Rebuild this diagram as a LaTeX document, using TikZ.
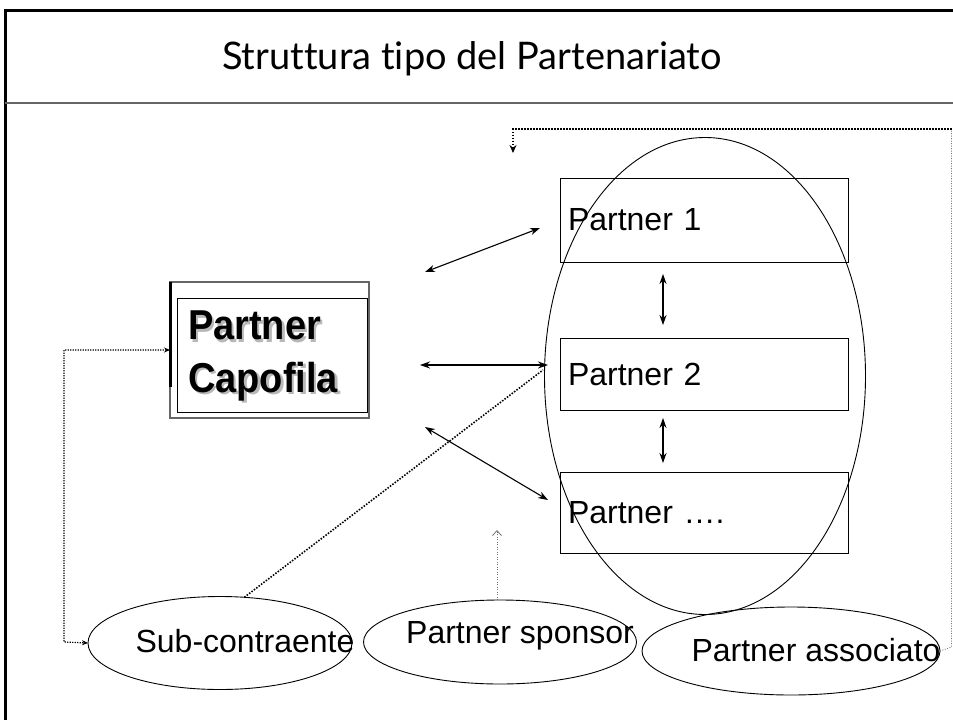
\documentclass[tikz,border=0pt]{standalone}
\usepackage{fontspec}
\setmainfont{Liberation Sans}
\newfontfamily\titlefont[Ligatures=NoCommon,RawFeature=-liga]{Lato}
\usetikzlibrary{arrows.meta,shapes.geometric}
\newcommand{\shadowword}[1]{\rlap{\kern2.5pt\raisebox{-2.5pt}{\color{black!28}#1}}#1}
\begin{document}
\begin{tikzpicture}[x=1pt,y=-1pt,
  every node/.style={inner sep=0pt,outer sep=0pt},
  pbox/.style={draw, line width=0.9pt, rectangle, minimum width=288pt, text width=272pt, align=left, inner xsep=8pt, font=\fontsize{32}{38}\selectfont},
  oval/.style={draw, ellipse, line width=0.9pt},
  lbl/.style={font=\fontsize{32}{38}\selectfont},
  dbl/.style={{Stealth[length=10pt,width=7pt]}-{Stealth[length=10pt,width=7pt]}, line width=1.1pt},
  dots/.style={line width=1.6pt, dash pattern=on 1.5pt off 1.5pt},
  thindots/.style={line width=0.8pt, dash pattern=on 1pt off 1.5pt, black!55},
  smalltip/.style={{Stealth[length=6pt,width=5pt]}-{Stealth[length=6pt,width=5pt]}}
]
\useasboundingbox (0,0) rectangle (953,720);
% frame
\draw[line width=3pt] (5,720) -- (5,10) -- (953,10);
\draw[line width=1.2pt, black!60] (5,103) -- (953,103);
\node[font=\titlefont\fontsize{38}{44}\selectfont] (title) at (472,59) {Struttura tipo del Partenariato};

% partner boxes
\node[pbox, minimum height=84pt] (p1) at (704,220) {Partner 1};
\node[pbox, minimum height=72pt] (p2) at (704,374) {Partner 2};
\node[pbox, minimum height=81pt] (p3) at (704,512.5) {Partner ….};
% group ellipse
\node[oval, minimum width=321pt, minimum height=477pt] (grp) at (705,376) {};

% vertical arrows
\coordinate (a1) at (663,274); \coordinate (a2) at (663,325);
\coordinate (a3) at (663,418); \coordinate (a4) at (663,463);
\draw[dbl] (a1) -- (a2);
\draw[dbl] (a3) -- (a4);

% capofila
\node[draw=black!60, line width=1.5pt, minimum width=199pt, minimum height=136pt] (capo) at (269.5,350) {};
\node[draw, line width=0.8pt, minimum width=190pt, minimum height=114pt] (capoin) at (272,355) {};
\draw[line width=3pt] (capo.north west) -- ++(0,105);
\node[font=\bfseries\fontsize{38}{48}\selectfont, align=left, anchor=west, yscale=1.1] (capotext) at (188,357) {\shadowword{Partner}\\\shadowword{Capofila}};

% double arrows capofila -- partners
\coordinate (c1) at (425,272); \coordinate (q1) at (540,228);
\coordinate (c2) at (420,365); \coordinate (q2) at (548,365);
\coordinate (c3) at (425,427); \coordinate (q3) at (548,500);
\draw[dbl] (c1) -- (q1);
\draw[dbl] (c2) -- (q2);
\draw[dbl] (c3) -- (q3);

% bottom ellipses
\node[oval, minimum width=264pt, minimum height=93pt] (sub) at (220,643) {};
\node[lbl] (subT) at (245,641) {Sub-contraente};
\node[oval, minimum width=273pt, minimum height=84pt] (spo) at (500,642) {};
\node[lbl] (spoT) at (520,636) {Partner sponsor};
\node[oval, minimum width=298pt, minimum height=88pt] (ass) at (791,651) {};
\node[lbl] (assT) at (816,650) {Partner associato};

% dotted connectors
\coordinate (k1) at (64,350); \coordinate (k2) at (64,642);
\draw[line width=1.2pt, dash pattern=on 1.2pt off 1.3pt, smalltip] (capo.west) -- (k1) -- (k2) -- (sub.west);
\coordinate (d2) at (543,370);
\draw[dots] (sub.62) -- (d2);
\coordinate (sp1) at (497,600); \coordinate (sp2) at (497,530);
\draw[thindots, -{Straight Barb[length=5pt,width=9pt]}] (sp1) -- (sp2);
\coordinate (r1) at (951.5,647); \coordinate (r2) at (951.5,129);
\coordinate (r3) at (513,129); \coordinate (r4) at (513,153);
\draw[thindots] (ass.east) -- (r1) -- (r2);
\draw[dots, -{Stealth[length=8pt,width=7pt]}] (r2) -- (r3) -- (r4);
\end{tikzpicture}
\end{document}
